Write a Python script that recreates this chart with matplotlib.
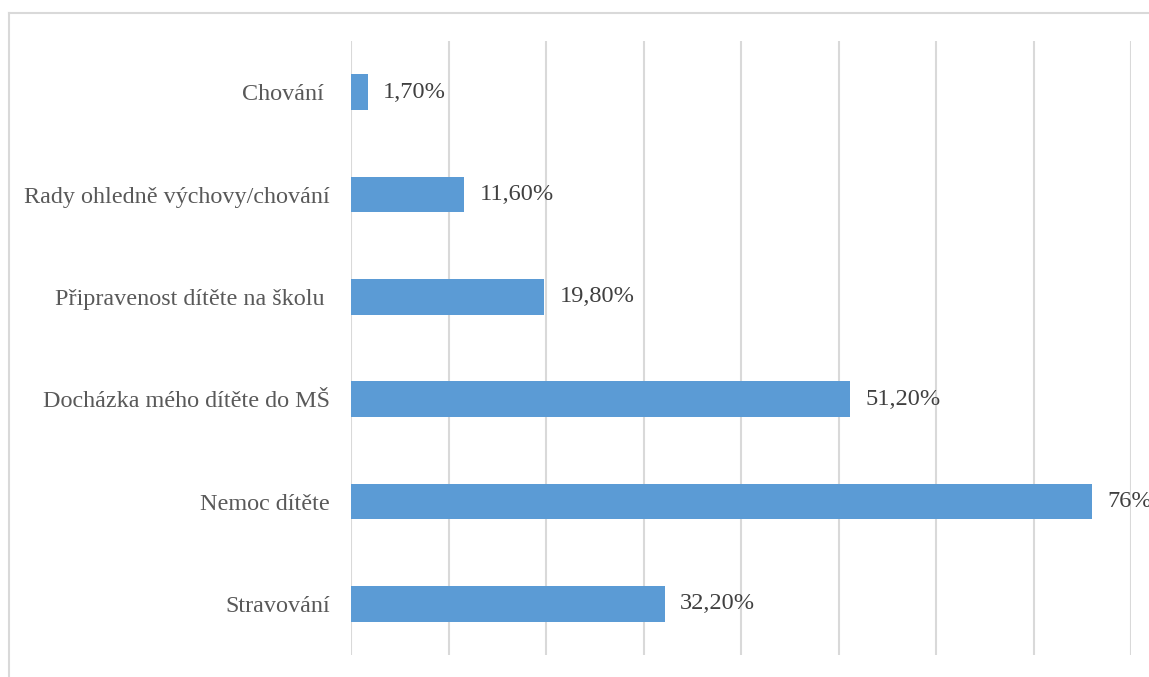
import matplotlib.pyplot as plt
from matplotlib.lines import Line2D

plt.rcParams.update({
    "font.family": ["Liberation Serif", "DejaVu Serif"],
    "font.size": 17.6,
})

# data, top to bottom
categories = ["Chování ", "Rady ohledně výchovy/chování", "Připravenost dítěte na školu ",
              "Docházka mého dítěte do MŠ", "Nemoc dítěte", "Stravování"]
values = [1.7, 11.6, 19.8, 51.2, 76, 32.2]
value_labels = ["1,70%", "11,60%", "19,80%", "51,20%", "76%", "32,20%"]

W, H = 1149, 677
fig = plt.figure(figsize=(W / 100, H / 100), dpi=100)
ax = fig.add_axes([351 / W, 1 - 655 / H, (1131 - 351) / W, (655 - 41) / H])

pos = list(range(len(categories)))
ax.barh(pos, values, height=0.35, color="#5B9BD5", zorder=3)
ax.set_yticks(pos)
ax.set_yticklabels(categories, color="#595959", fontsize=17.4)
ax.set_ylim(len(categories) - 0.5, -0.5)
ax.set_xlim(0, 80)
ax.set_xticks(range(0, 81, 10))
ax.tick_params(axis="x", length=0, labelbottom=False)
ax.tick_params(axis="y", length=0, pad=15)
ax.grid(axis="x", color="#D9D9D9", linewidth=1.5, zorder=0)
for s in ax.spines.values():
    s.set_visible(False)

for p, v, lab in zip(pos, values, value_labels):
    ax.annotate(lab, (v, p), xytext=(11, 0), textcoords="offset points",
                va="center", ha="left", color="#404040", clip_on=False)

# outer frame of the chart area
fig.add_artist(Line2D([8.5 / W, 1.0], [1 - 12.5 / H] * 2, transform=fig.transFigure,
                      color="#D9D9D9", linewidth=1.5))
fig.add_artist(Line2D([8.5 / W] * 2, [0, 1 - 12.5 / H], transform=fig.transFigure,
                      color="#D9D9D9", linewidth=1.5))

fig.savefig("out.png", dpi=100)
